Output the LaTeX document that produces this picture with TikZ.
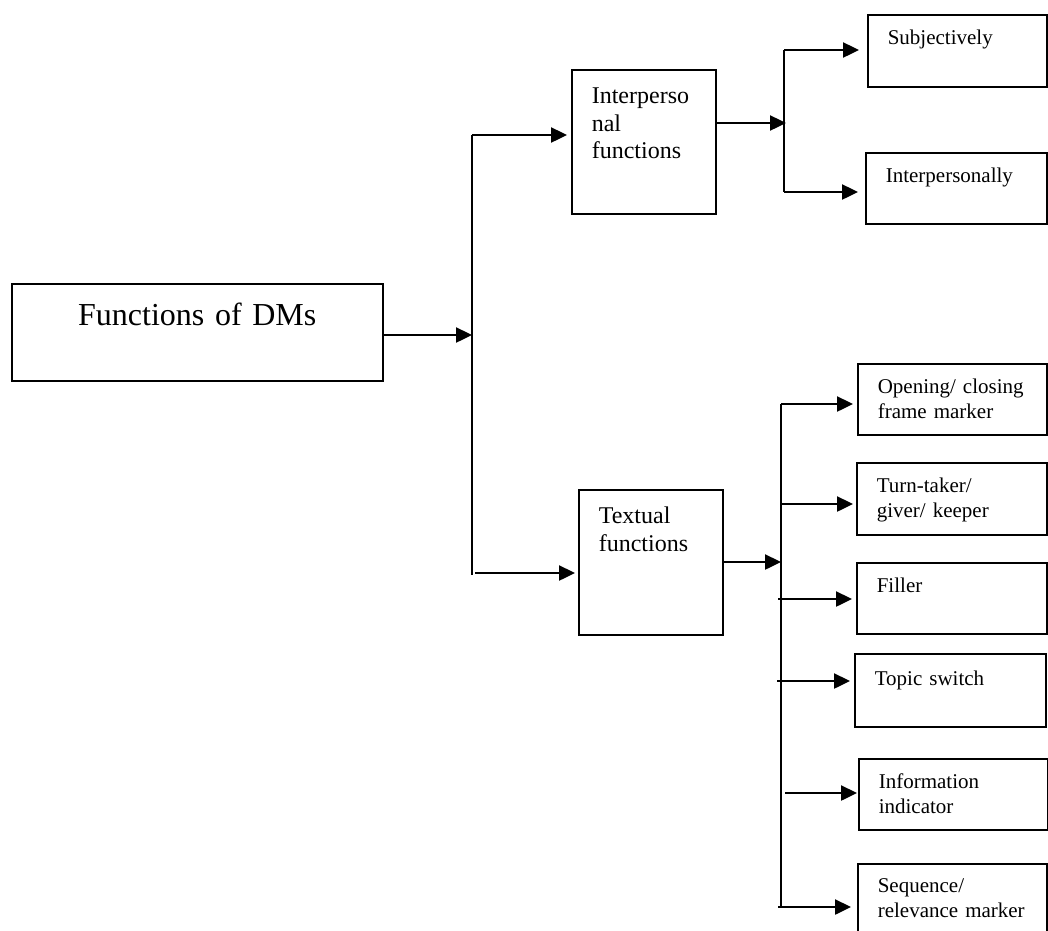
\documentclass[tikz,border=0pt]{standalone}
\usepackage{fontspec}
\setmainfont{Liberation Serif}
\usetikzlibrary{arrows.meta}

\begin{document}
\begin{tikzpicture}[x=1pt, y=-1pt,
		% Style definitions - boxes keep their text at the top left
		box/.style={draw, line width=1.6pt, anchor=north west, align=left, inner ysep=0pt, inner xsep=20pt},
		rootbox/.style={box, align=center, inner xsep=0pt, text width=371pt, font=\fontsize{32}{38}\selectfont, text height=42pt, text depth=55pt},
		funcbox/.style={box, text width=104pt, font=\fontsize{24}{27.5}\selectfont, text height=34pt, text depth=110pt},
		leafbox/.style={box, text width=149pt, font=\fontsize{21}{25}\selectfont, text height=30pt, text depth=42pt},
		trunk/.style={line width=2.2pt},
		arrow/.style={-{Triangle[length=16pt, width=15pt]}, line width=2.4pt},
		]
		\useasboundingbox (0,0) rectangle (1048,930);

		% Level 1: root
		\node[rootbox] (root) at (11,283) {Functions of DMs};

		% Level 2: the two kinds of functions
		\node[funcbox] (inter) at (571,69) {Interperso\\nal\\functions};
		\node[funcbox, text depth=111pt] (textual) at (578,489) {Textual\\functions};

		% Level 3: interpersonal leaves
		\node[leafbox, text width=139pt] (subj) at (867,14) {Subjectively};
		\node[leafbox, text width=141pt, text depth=41pt] (intp) at (865,152) {Interpersonally};

		% Level 3: textual leaves
		\node[leafbox, text depth=41pt] (open) at (857,363) {Opening/ closing\\frame marker};
		\node[leafbox, text width=150pt] (turn) at (856,462) {Turn-taker/\\giver/ keeper};
		\node[leafbox, text width=150pt, text depth=41pt] (filler) at (856,562) {Filler};
		\node[leafbox, text width=151pt, text depth=41pt, text height=32pt] (topic) at (854,653) {Topic switch};
		\node[leafbox, text depth=41pt] (info) at (858,758) {Information\\indicator};
		\node[leafbox, text height=29pt, text depth=43pt] (seq) at (857,863) {Sequence/\\relevance marker};

		% Branch points
		\coordinate (hub) at (472,335);
		\coordinate (hubTop) at (472,135);
		\coordinate (hubBot) at (472,575);
		\coordinate (hubOut) at (475,573);
		\coordinate (ihub) at (786,123);
		\coordinate (iTop) at (784,50);
		\coordinate (iBot) at (784,192);
		\coordinate (thub) at (781,562);
		\coordinate (tTop) at (781,404);
		\coordinate (tBot) at (781,907);
		\coordinate (bOpen) at (781,404);
		\coordinate (bTurn) at (780,504);
		\coordinate (bFiller) at (778,599);
		\coordinate (bTopic) at (777,681);
		\coordinate (bInfo) at (785,793);
		\coordinate (bSeq) at (778,907);

		% Root to level 2
		\draw[arrow] (root.east |- hub) -- (hub);
		\draw[trunk] (hubTop) -- (hubBot);
		\draw[arrow, shorten >=4pt] (hubTop) -- (inter.west |- hubTop);
		\draw[arrow, shorten >=3pt] (hubOut) -- (textual.west |- hubOut);

		% Interpersonal to leaves
		\draw[arrow] (inter.east |- ihub) -- (ihub);
		\draw[trunk] (iTop) -- (iBot);
		\draw[arrow, shorten >=8pt] (iTop) -- (subj.west |- iTop);
		\draw[arrow, shorten >=7pt] (iBot) -- (intp.west |- iBot);

		% Textual to leaves
		\draw[arrow] (textual.east |- thub) -- (thub);
		\draw[trunk] (tTop) -- (tBot);
		\draw[arrow, shorten >=4pt] (bOpen) -- (open.west |- bOpen);
		\draw[arrow, shorten >=3pt] (bTurn) -- (turn.west |- bTurn);
		\draw[arrow, shorten >=4pt] (bFiller) -- (filler.west |- bFiller);
		\draw[arrow, shorten >=4pt] (bTopic) -- (topic.west |- bTopic);
		\draw[arrow, shorten >=1pt] (bInfo) -- (info.west |- bInfo);
		\draw[arrow, shorten >=6pt] (bSeq) -- (seq.west |- bSeq);

	\end{tikzpicture}
\end{document}
